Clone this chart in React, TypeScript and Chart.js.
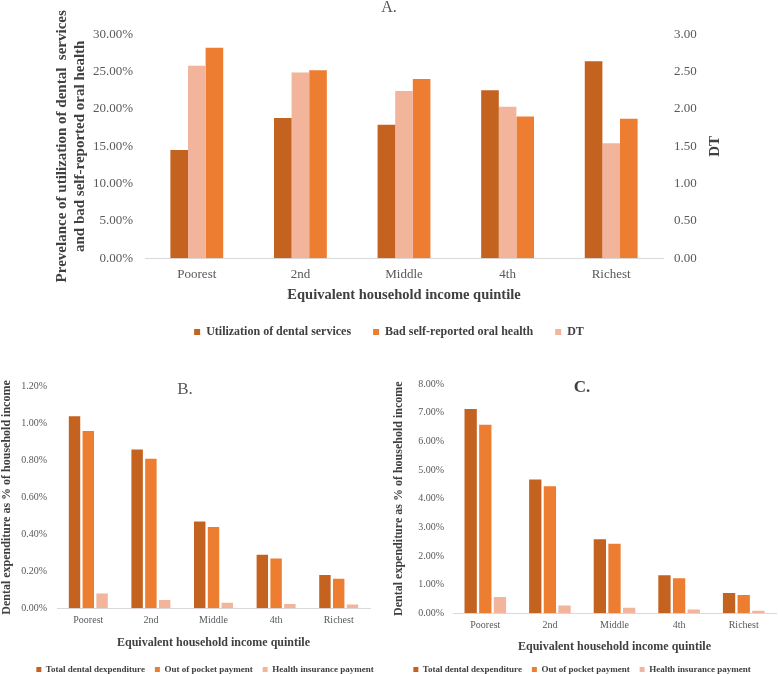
import React, { useEffect, useRef } from 'react';
import { Chart, registerables } from 'chart.js';

Chart.register(...registerables);

// ---------- data ----------
const quintiles = ['Poorest', '2nd', 'Middle', '4th', 'Richest'];

// Panel A (percent, left axis) and DT (right axis)
const utilization = [14.5, 18.8, 17.9, 22.5, 26.4];
const badOralHealth = [28.2, 25.2, 24.0, 19.0, 18.7];
const dtScore = [2.58, 2.49, 2.24, 2.03, 1.54];

// Panel B (% of household income)
const totalB = [1.04, 0.86, 0.47, 0.29, 0.18];
const outOfPocketB = [0.96, 0.81, 0.44, 0.27, 0.16];
const insuranceB = [0.08, 0.045, 0.03, 0.023, 0.02];

// Panel C (% of household income)
const totalC = [7.13, 4.67, 2.58, 1.33, 0.71];
const outOfPocketC = [6.58, 4.43, 2.43, 1.22, 0.64];
const insuranceC = [0.57, 0.27, 0.19, 0.13, 0.09];

const legendOrderA = ['Utilization of dental services', 'Bad self-reported oral health', 'DT'];

// ---------- styles ----------
const SERIF = "'Liberation Serif', 'Times New Roman', serif";
const DARK = '#C4621F';
const ORANGE = '#ED7D31';
const PINK = '#F3B49C';
const TICK = '#595959';
const TITLE = '#404040';
const AXIS = '#D9D9D9';

const dtPlugin = {
  id: 'dtAxisTitle',
  afterDraw(chart: any) {
    const { ctx, chartArea } = chart;
    ctx.save();
    ctx.font = `bold 15px ${SERIF}`;
    ctx.fillStyle = TITLE;
    ctx.textAlign = 'center';
    ctx.textBaseline = 'middle';
    ctx.translate(chartArea.right + 52, (chartArea.top + chartArea.bottom) / 2);
    ctx.rotate(-Math.PI / 2);
    ctx.fillText('DT', 0, 0);
    ctx.restore();
  },
};

const legendShift = (dx: number) => ({
  id: 'legendShift',
  afterLayout(chart: any) {
    if (chart.legend) {
      chart.legend.left += dx;
      chart.legend.right += dx;
    }
  },
});

function makeA(canvas: HTMLCanvasElement) {
  return new Chart(canvas, {
    type: 'bar',
    data: {
      labels: quintiles,
      datasets: [
        { label: 'Utilization of dental services', data: utilization, backgroundColor: DARK, yAxisID: 'y' },
        { label: 'DT', data: dtScore, backgroundColor: PINK, yAxisID: 'y1' },
        { label: 'Bad self-reported oral health', data: badOralHealth, backgroundColor: ORANGE, yAxisID: 'y' },
      ],
    },
    options: {
      animation: false,
      responsive: false,
      devicePixelRatio: 1,
      layout: { padding: 0 },
      datasets: { bar: { categoryPercentage: 0.51, barPercentage: 1 } } as any,
      plugins: {
        title: {
          display: true,
          text: 'A.',
          color: TICK,
          font: { family: SERIF, size: 16, weight: 'normal' },
          padding: { top: -2, bottom: 17.1 },
        },
        legend: {
          position: 'bottom',
          labels: {
            color: TITLE,
            font: { family: SERIF, size: 12, weight: 'bold' },
            boxWidth: 6,
            boxHeight: 6,
            padding: 22,
            sort: (a: any, b: any) => legendOrderA.indexOf(a.text) - legendOrderA.indexOf(b.text),
          },
        },
        tooltip: { enabled: false },
      },
      scales: {
        x: {
          grid: { display: false, drawTicks: false },
          border: { display: true, color: AXIS },
          ticks: { color: TICK, font: { family: SERIF, size: 13 }, padding: 8 },
          title: {
            display: true,
            text: 'Equivalent household income quintile',
            color: TITLE,
            font: { family: SERIF, size: 14.5, weight: 'bold' },
            padding: { top: -3.6, bottom: 0.3 },
          },
        },
        y: {
          position: 'left',
          min: 0,
          max: 30,
          grid: { display: false, drawTicks: false },
          border: { display: false },
          ticks: {
            stepSize: 5,
            color: TICK,
            font: { family: SERIF, size: 13 },
            padding: 12,
            callback: (v: any) => Number(v).toFixed(2) + '%',
          },
          title: {
            display: true,
            text: ['Prevelance of utilization of dental  services', 'and bad self-reported oral health'],
            color: TITLE,
            font: { family: SERIF, size: 15, weight: 'bold', lineHeight: 1.2 },
            padding: { top: 53, bottom: 0 },
          },
          afterFit: (s: any) => {
            s.width = 145;
          },
        },
        y1: {
          position: 'right',
          min: 0,
          max: 3,
          grid: { display: false, drawTicks: false },
          border: { display: false },
          ticks: {
            stepSize: 0.5,
            color: TICK,
            font: { family: SERIF, size: 13 },
            padding: 11,
            callback: (v: any) => Number(v).toFixed(2),
          },
          afterFit: (s: any) => {
            s.width = 115;
          },
        },
      },
    } as any,
    plugins: [dtPlugin],
  });
}

function makeExpenditure(
  canvas: HTMLCanvasElement,
  opts: {
    title: string;
    titleBold: boolean;
    titlePad: { top: number; bottom: number };
    total: number[];
    oop: number[];
    ins: number[];
    max: number;
    step: number;
    yWidth: number;
    yTitlePadTop: number;
    tickPad: number;
    xLabelPad: number;
    xTitlePad: { top: number; bottom: number };
    catPct: number;
    barPct: number;
    padRight: number;
    legendDx: number;
  }
) {
  return new Chart(canvas, {
    type: 'bar',
    data: {
      labels: quintiles,
      datasets: [
        { label: 'Total dental dexpenditure', data: opts.total, backgroundColor: DARK },
        { label: 'Out of pocket payment', data: opts.oop, backgroundColor: ORANGE },
        { label: 'Health insurance payment', data: opts.ins, backgroundColor: PINK },
      ],
    },
    options: {
      animation: false,
      responsive: false,
      devicePixelRatio: 1,
      layout: { padding: { left: 0, right: opts.padRight, top: 0, bottom: 0 } },
      datasets: { bar: { categoryPercentage: opts.catPct, barPercentage: opts.barPct } } as any,
      plugins: {
        title: {
          display: true,
          text: opts.title,
          color: opts.titleBold ? TITLE : TICK,
          font: { family: SERIF, size: 17, weight: opts.titleBold ? 'bold' : 'normal' },
          padding: opts.titlePad,
        },
        legend: {
          position: 'bottom',
          labels: {
            color: TITLE,
            font: { family: SERIF, size: 9, weight: 'bold' },
            boxWidth: 5,
            boxHeight: 5,
            padding: 10,
          },
        },
        tooltip: { enabled: false },
      },
      scales: {
        x: {
          grid: { display: false, drawTicks: false },
          border: { display: true, color: AXIS },
          ticks: { color: TICK, font: { family: SERIF, size: 10 }, padding: opts.xLabelPad },
          title: {
            display: true,
            text: 'Equivalent household income quintile',
            color: TITLE,
            font: { family: SERIF, size: 12, weight: 'bold' },
            padding: opts.xTitlePad,
          },
        },
        y: {
          min: 0,
          max: opts.max,
          grid: { display: false, drawTicks: false },
          border: { display: false },
          ticks: {
            stepSize: opts.step,
            color: TICK,
            font: { family: SERIF, size: 10 },
            padding: opts.tickPad,
            callback: (v: any) => Number(v).toFixed(2) + '%',
          },
          title: {
            display: true,
            text: 'Dental expenditure as % of household income',
            color: TITLE,
            font: { family: SERIF, size: 12, weight: 'bold' },
            padding: { top: opts.yTitlePadTop, bottom: 0 },
          },
          afterFit: (s: any) => {
            s.width = opts.yWidth;
          },
        },
      },
    } as any,
    plugins: [legendShift(opts.legendDx)],
  });
}

export default function App() {
  const refA = useRef<HTMLCanvasElement>(null);
  const refB = useRef<HTMLCanvasElement>(null);
  const refC = useRef<HTMLCanvasElement>(null);

  useEffect(() => {
    const charts: Chart[] = [];
    if (refA.current) charts.push(makeA(refA.current));
    if (refB.current)
      charts.push(
        makeExpenditure(refB.current, {
          title: 'B.',
          titleBold: false,
          titlePad: { top: 19.8, bottom: -13.5 },
          total: totalB,
          oop: outOfPocketB,
          ins: insuranceB,
          max: 1.2,
          step: 0.2,
          yWidth: 57,
          yTitlePadTop: 0,
          tickPad: 10,
          xLabelPad: 5.7,
          xTitlePad: { top: 4.1, bottom: 4.8 },
          catPct: 0.66,
          barPct: 0.83,
          padRight: 40,
          legendDx: 20,
        })
      );
    if (refC.current)
      charts.push(
        makeExpenditure(refC.current, {
          title: 'C.',
          titleBold: true,
          titlePad: { top: 17.8, bottom: -14.2 },
          total: totalC,
          oop: outOfPocketC,
          ins: insuranceC,
          max: 8,
          step: 1,
          yWidth: 65,
          yTitlePadTop: 3.8,
          tickPad: 9,
          xLabelPad: 5.7,
          xTitlePad: { top: 3.1, bottom: 0.8 },
          catPct: 0.68,
          barPct: 0.84,
          padRight: 2,
          legendDx: 0,
        })
      );
    return () => charts.forEach((c) => c.destroy());
  }, []);

  return (
    <div
      style={{
        position: 'absolute',
        left: 0,
        top: 0,
        width: 778,
        height: 674,
        overflow: 'hidden',
        background: '#ffffff',
      }}
    >
      <canvas
        ref={refA}
        width={778}
        height={348}
        style={{ position: 'absolute', left: 0, top: 0, width: 778, height: 348 }}
      />
      <canvas
        ref={refB}
        width={410}
        height={324}
        style={{ position: 'absolute', left: 0, top: 360, width: 410, height: 324 }}
      />
      <canvas
        ref={refC}
        width={390}
        height={324}
        style={{ position: 'absolute', left: 388, top: 360, width: 390, height: 324 }}
      />
    </div>
  );
}
